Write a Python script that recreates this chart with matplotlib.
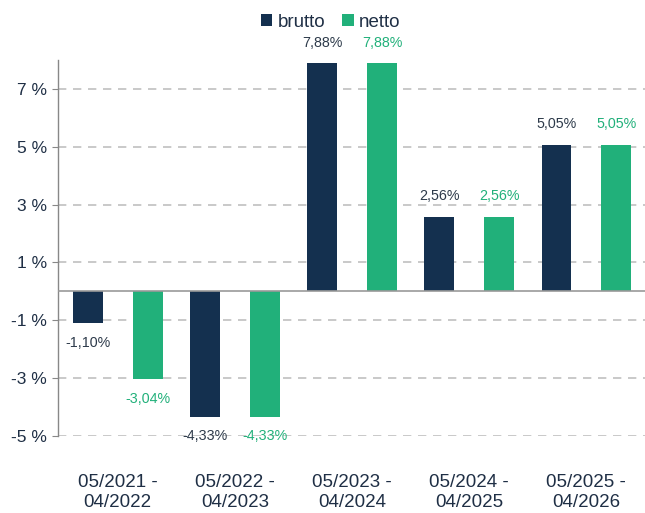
import numpy as np
import matplotlib.pyplot as plt

plt.rcParams['font.family'] = ['Liberation Sans', 'DejaVu Sans']

periods = ["05/2021 -\n04/2022", "05/2022 -\n04/2023", "05/2023 -\n04/2024",
           "05/2024 -\n04/2025", "05/2025 -\n04/2026"]
brutto = [-1.10, -4.33, 7.88, 2.56, 5.05]
netto = [-3.04, -4.33, 7.88, 2.56, 5.05]
y_ticks = [-5, -3, -1, 1, 3, 5, 7]

navy = "#14304f"
green = "#21b07a"
label_navy = "#2d3a4a"

fig = plt.figure(figsize=(6.45, 5.13), dpi=100)
ax = fig.add_axes([0.09, 0.15, 0.91, 0.733])

x = np.arange(len(periods))
w = 0.255
off = 0.255
ax.bar(x - off, brutto, w, color=navy, label="brutto", zorder=3)
ax.bar(x + off, netto, w, color=green, label="netto", zorder=3)

def fmt(v):
    return f"{v:.2f}%".replace(".", ",")

# data labels: above positive bars, below negative ones
for xs, vals, col in [(x - off, brutto, label_navy), (x + off, netto, green)]:
    for xi, v in zip(xs, vals):
        if v >= 0:
            ax.annotate(fmt(v), (xi, v), xytext=(0, 10), textcoords="offset points",
                        ha="center", va="bottom", fontsize=10.3, color=col)
        else:
            ax.annotate(fmt(v), (xi, v), xytext=(0, -9), textcoords="offset points",
                        ha="center", va="top", fontsize=10.3, color=col)

ax.set_xlim(-0.51, 4.5)
ax.set_ylim(-5, 8)
ax.set_yticks(y_ticks)
ax.set_yticklabels([f"{t} %" for t in y_ticks], fontsize=12.5, color="#1f2f45")
ax.set_xticks(x)
ax.set_xticklabels(periods, fontsize=13.5, color="#1f2f45", linespacing=1.25)
ax.tick_params(axis="x", length=0, pad=27.5)
ax.tick_params(axis="y", length=4, color="#888888", pad=4)

ax.grid(axis="y", linestyle=(0, (5, 4)), color="#c0c0c0", linewidth=1.2, zorder=0)
ax.axhline(0, color="#999999", linewidth=1.2, zorder=4)

for s in ["top", "right", "bottom"]:
    ax.spines[s].set_visible(False)
ax.spines["left"].set_color("#888888")
ax.spines["left"].set_linewidth(1.0)

fig.legend(loc="upper center", bbox_to_anchor=(0.513, 1.006), ncol=2, frameon=False,
           fontsize=13.5, handlelength=0.6, handleheight=0.6, handletextpad=0.3,
           columnspacing=0.9, labelcolor="#1f2f45")

fig.savefig("out.png", dpi=100)
